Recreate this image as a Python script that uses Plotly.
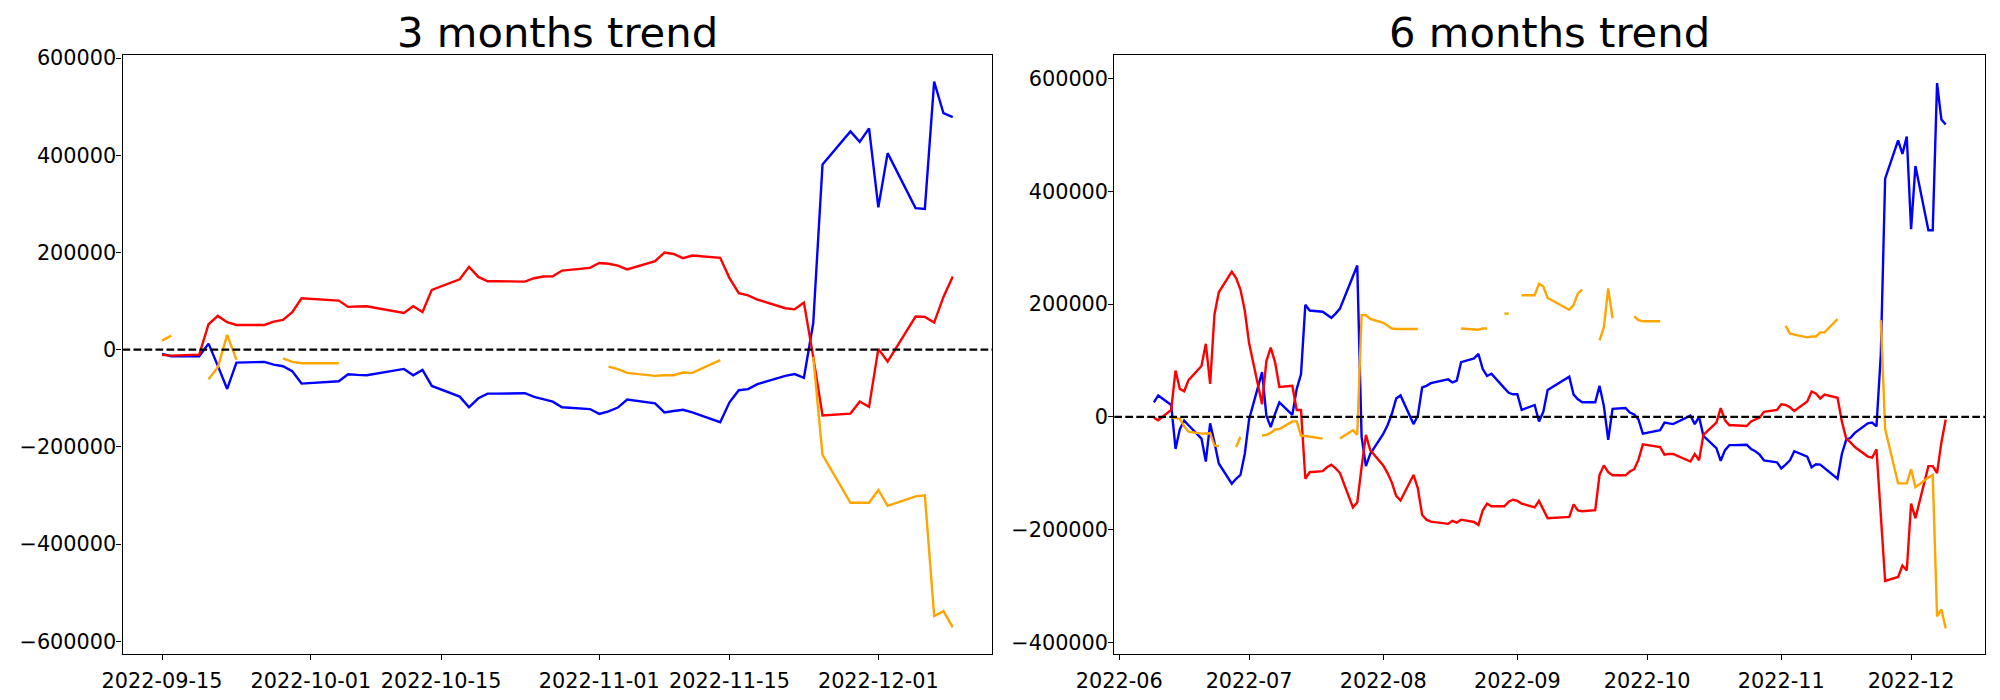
import pandas as pd
import plotly.graph_objects as go

# ---------------- data ----------------
KRX_HOLIDAYS = ["2022-08-15", "2022-09-09", "2022-09-12", "2022-10-03", "2022-10-10"]

dates_3m = [d for d in pd.bdate_range("2022-09-15", "2022-12-09") if d.strftime("%Y-%m-%d") not in KRX_HOLIDAYS]
dates_6m = [d for d in pd.bdate_range("2022-06-09", "2022-12-09") if d.strftime("%Y-%m-%d") not in KRX_HOLIDAYS]

blue_3m = [-8900, -13600, -13600, 12400, -33500, -80900, -26700,
           -25300, -30800, -34200, -44500, -69900,
           -65100, -50700, -52000, -52800,
           -39700, -52800, -41800, -74700,
           -96700, -118600, -100100, -90500, -90500,
           -89800, -97400, -101500, -107000, -118600,
           -122300, -132300, -126900, -119200, -102900,
           -110700, -129300, -126200, -123900, -129300,
           -149400, -108500, -83600, -81300, -71200,
           -54100, -50200, -58000, 54200, 381000,
           449100, 427500, 455300, 292700, 404300,
           291200, 289600, 551400, 486400, 478600]
red_3m = [-10900, -12300, -10300, 52200, 69400, 56300, 50800,
          50800, 57700, 61100, 76900, 105700,
          100900, 87900, 88600, 89300,
          75500, 89300, 77600, 122900,
          144800, 170200, 149600, 140700, 140700,
          140000, 146900, 150300, 150800, 162700,
          168100, 178100, 176600, 172700, 165000,
          182000, 199800, 196700, 188200, 193600,
          189000, 147200, 116200, 111500, 103000,
          85200, 82900, 96800, -15000, -135500,
          -131600, -106800, -117700, 1500, -24800,
          68100, 67300, 55700, 108400, 150200]
orange_3m = [18600, 28900, None, -61000, -36300, 30300, -21200,
             None, None, -17800, -25300, -28100,
             -28100, None, None, None,
             None, None, None, None,
             None, None, None, None, None,
             None, None, None, None, None,
             None, None, -34800, -40200, -47900,
             -54100, -52600, -52600, -47100, -47900,
             -21600, None, None, None, None,
             None, None, None, -15000, -216800,
             -315100, -315100, -315100, -288800, -321300,
             -301900, -299600, -548300, -538200, -571400]

blue_6m = [
    # Jun
    25800, 38000, 21000, -57000, -21700, -6800, -14900, -38600, -79300, -11500, -45400, -82700,
    -118700, -109800, -103100, -65800,
    # Jul
    -4700, 79300, 2000, -18300, 5400, 25800, 3400, 49500, 75300, 198700, 188500,
    186500, 181000, 175600, 183100, 191900, 249500, 268500, -35300, -87500, -65800,
    # Aug
    -30500, -14900, 5400, 32500, 38000, -12900, 2000, 52200, 54900, 59700,
    66400, 61000, 64400, 97000, 103700, 111900, 84800, 72500, 76600, 50900, 42700, 40000,
    # Sep
    40000, 12200, 21000, -8100, 8800, 47500, 71200, 39300, 31200, 25800,
    25800, 54900, 19000, -40700, 14200, 15600, 7500, 4100, -4700, -29800,
    # Oct
    -23700, -10200, -11500, -12900, 2000, -12900, 0, -33900, -55600, -78000,
    -59000, -50200, -50200, -49500, -57000, -61000, -67100, -77300, -80700,
    # Nov
    -91500, -84800, -77300, -61000, -70500, -89500, -84100, -84800, -90900, -109800,
    -65800, -40700, -37300, -28500, -11500, -10200, -17000, 110500, 422400, 490200, 466500, 497000,
    # Dec
    332900, 444800, 330900, 330900, 591900, 527500, 518700]
red_6m = [
    # Jun
    -1400, -6100, 12200, 82000, 49500, 45400, 65100, 90200, 129500, 58300, 181700, 221000,
    257600, 246100, 225800, 188500,
    # Jul
    130900, 22400, 99000, 122700, 97000, 52900, 54900, 12200, 12200, -109800, -98300,
    -96300, -89500, -84800, -91500, -99700, -160700, -151900, -89500, -31900, -59000,
    # Aug
    -86100, -99700, -116600, -140300, -148500, -103100, -126800, -174200, -182400, -185800,
    -189800, -184400, -187800, -182400, -186500, -191900, -166100, -153900, -158700, -158700, -150500, -147100,
    # Sep
    -149200, -153900, -160700, -149200, -164100, -179700, -177600, -155300, -166100, -167500,
    -165400, -103100, -86100, -98300, -103700, -103700, -97000, -92900, -76000, -48800,
    # Oct
    -53600, -67100, -65800, -65800, -79300, -65800, -77300, -31900, -10200, 15600,
    -6100, -14900, -14900, -16300, -8100, -4700, -1400, 8800, 12200,
    # Nov
    22400, 21000, 17000, 10200, 27100, 44700, 41400, 32500, 39300, 33900,
    -8100, -38600, -45400, -53600, -70500, -72500, -57600, -174200, -290900, -284100, -263700, -272600,
    # Dec
    -153900, -179700, -87500, -87500, -99700, -45400, -4700]
orange_6m = [
    # Jun
    None, None, -700, -2000, -3400, -17000, -26400, -29800, -29800, -29200, -50900, -52200,
    None, -53600, -35300, None,
    # Jul
    None, -33200, -31900, -28500, -22400, -21700, -8100, -8100, -33200, -33900, -35300,
    -38600, None, None, None, -38600, -23700, -31900, 180400, 180400, 173600,
    # Aug
    166800, 161400, 156600, 155900, 155900, 155900, 155900, None, None, None,
    None, None, None, 156600, 155300, 154600, 156600, 156600, None, 183100, 183100, None,
    # Sep
    None, 215600, 215600, 236000, 231200, 210900, 189800, 198700, 219000, 225800,
    None, 135600, 159300, 227800, 174900, None, None, 178300, 171500, 169500,
    # Oct
    169500, None, None, None, None, None, None, None, None, None,
    None, None, None, None, None, None, None, None, None,
    # Nov
    None, 161400, 147800, 145800, 141000, 142400, 142400, 149800, 149800, 173600,
    None, None, None, None, None, None, None, 171500, -21700, -118000, -118000, -118000,
    # Dec
    -92900, -124800, -107800, -103100, -353900, -341700, -375600]

titles = ["3 months trend", "6 months trend"]
xtick_3m = ["2022-09-15", "2022-10-01", "2022-10-15", "2022-11-01", "2022-11-15", "2022-12-01"]
xtick_6m = ["2022-06-01", "2022-07-01", "2022-08-01", "2022-09-01", "2022-10-01", "2022-11-01", "2022-12-01"]
ytick_3m = [-600000, -400000, -200000, 0, 200000, 400000, 600000]
ytick_6m = [-400000, -200000, 0, 200000, 400000, 600000]

# ---------------- figure ----------------
# the page body has an 8px margin; figure is sized so that it fills the window
OFF = 8
W, H = 2000 - OFF, 700 - OFF
FONT = "DejaVu Sans"
LW = 2.4

def px(x):   # window x (px) -> paper x
    return (x - OFF) / W

def py(y):   # window y from top (px) -> paper y
    return 1 - (y - OFF) / H

fig = go.Figure()

def add_series(x, ys, xa, ya):
    for y, c in zip(ys, ["blue", "red", "orange"]):
        fig.add_trace(go.Scatter(x=x, y=y, mode="lines", line=dict(color=c, width=LW),
                                 connectgaps=False, xaxis=xa, yaxis=ya, showlegend=False))

add_series(dates_3m, [blue_3m, red_3m, orange_3m], "x", "y")
add_series(dates_6m, [blue_6m, red_6m, orange_6m], "x2", "y2")

def ylabels(vals):
    return [("\u2212" + str(abs(v))) if v < 0 else str(v) for v in vals]

axis_common = dict(showline=True, mirror=True, linecolor="black", linewidth=1.1,
                   showgrid=False, zeroline=False, ticks="outside", ticklen=5,
                   tickwidth=1.1, tickcolor="black", automargin=False,
                   tickfont=dict(family=FONT, size=20.8, color="black"))
xaxis_common = dict(axis_common, ticklabelstandoff=3)
yaxis_common = dict(axis_common, ticklabelstandoff=-4)

L1 = (122.5, 992.3)
L2 = (1114.3, 1985.3)
ydom = [py(654), py(55.3)]
fig.update_layout(
    width=W, height=H, margin=dict(l=0, r=0, t=0, b=0, autoexpand=False),
    paper_bgcolor="white", plot_bgcolor="white", showlegend=False,
    font=dict(family=FONT, color="black"),
    xaxis=dict(domain=[px(L1[0]), px(L1[1])], anchor="y", type="date",
               range=["2022-09-10 18:00", "2022-12-13 06:00"],
               tickvals=xtick_3m, ticktext=xtick_3m, **xaxis_common),
    yaxis=dict(domain=ydom, anchor="x", range=[-626300, 605600],
               tickvals=ytick_3m, ticktext=ylabels(ytick_3m), **yaxis_common),
    xaxis2=dict(domain=[px(L2[0]), px(L2[1])], anchor="y2", type="date",
                range=["2022-05-30 20:24", "2022-12-18 03:36"],
                tickvals=xtick_6m, ticktext=[t[:7] for t in xtick_6m], **xaxis_common),
    yaxis2=dict(domain=ydom, anchor="x2", range=[-420700, 641300],
                tickvals=ytick_6m, ticktext=ylabels(ytick_6m), **yaxis_common),
)

for xr, yr in [("x", "y"), ("x2", "y2")]:
    fig.add_shape(type="line", xref=xr + " domain", x0=0, x1=1, yref=yr, y0=0, y1=0,
                  line=dict(color="black", width=2.1, dash="7.7px,3.3px"), layer="above")

for title, xdom in zip(titles, [L1, L2]):
    fig.add_annotation(text=title, xref="paper", yref="paper",
                       x=px((xdom[0] + xdom[1]) / 2), y=py(59),
                       xanchor="center", yanchor="bottom", showarrow=False,
                       font=dict(family=FONT, size=41.7, color="black"))

fig.write_html("out.html")
